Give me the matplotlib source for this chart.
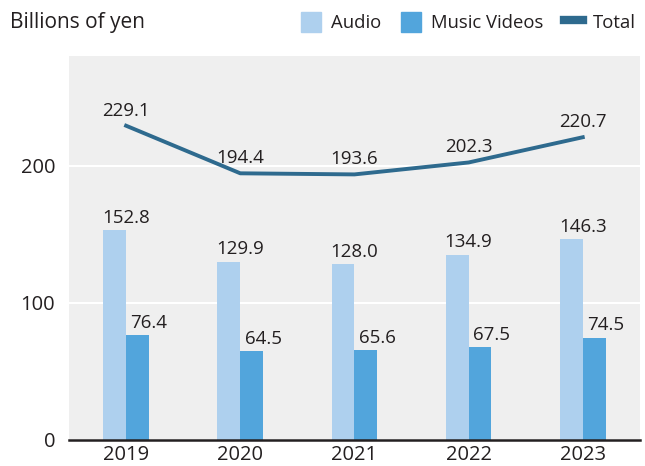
import numpy as np
import matplotlib.pyplot as plt
from matplotlib.patches import Patch
from matplotlib.lines import Line2D

plt.rcParams['font.family'] = ['Open Sans', 'DejaVu Sans']

years = ["2019", "2020", "2021", "2022", "2023"]
audio = [152.8, 129.9, 128.0, 134.9, 146.3]
videos = [76.4, 64.5, 65.6, 67.5, 74.5]
total = [229.1, 194.4, 193.6, 202.3, 220.7]

c_audio = '#aed0ee'
c_video = '#52a5dc'
c_total = '#2e6a8e'
c_text = '#231f20'

fig = plt.figure(figsize=(6.45, 4.66), dpi=100)
ax = fig.add_axes([0.107, 0.056, 0.885, 0.824])
ax.set_facecolor('#efefef')

x = np.arange(len(years))
w = 0.2
ax.bar(x - w / 2, audio, w, color=c_audio, zorder=2)
ax.bar(x + w / 2, videos, w, color=c_video, zorder=2)
ax.plot(x, total, color=c_total, lw=2.8, zorder=3)

fs = 13.5
for i in range(len(years)):
    ax.text(x[i], audio[i] + 2.5, f"{audio[i]:.1f}", ha='center', va='bottom',
            fontsize=fs, color=c_text)
    ax.text(x[i] + w, videos[i] + 2.5, f"{videos[i]:.1f}", ha='center', va='bottom',
            fontsize=fs, color=c_text)
    ax.text(x[i], total[i] + 4.5, f"{total[i]:.1f}", ha='center', va='bottom',
            fontsize=fs, color=c_text)

ax.set_xlim(-0.5, 4.5)
ax.set_ylim(0, 280)
ax.set_yticks([0, 100, 200])
ax.set_xticks(x)
ax.set_xticklabels(years)
ax.yaxis.grid(True, color='white', lw=1.5, zorder=1)
ax.set_axisbelow(True)
for s in ['top', 'right', 'left']:
    ax.spines[s].set_visible(False)
ax.spines['bottom'].set_color(c_text)
ax.spines['bottom'].set_linewidth(1.8)
ax.tick_params(length=0, labelsize=14.5, colors=c_text)
ax.tick_params(axis='x', pad=4)
ax.tick_params(axis='y', pad=10)

fig.text(0.015, 0.952, "Billions of yen", fontsize=15, color=c_text, va='center')

handles = [Patch(color=c_audio), Patch(color=c_video),
           Line2D([], [], color=c_total, lw=6)]
fig.legend(handles, ["Audio", "Music Videos", "Total"], ncol=3,
           loc='center right', bbox_to_anchor=(1.012, 0.952), frameon=False,
           fontsize=13.3, handlelength=1.05, handleheight=1.3, handletextpad=0.55,
           columnspacing=1.1, labelcolor=c_text)

fig.savefig("out.png", dpi=100)
